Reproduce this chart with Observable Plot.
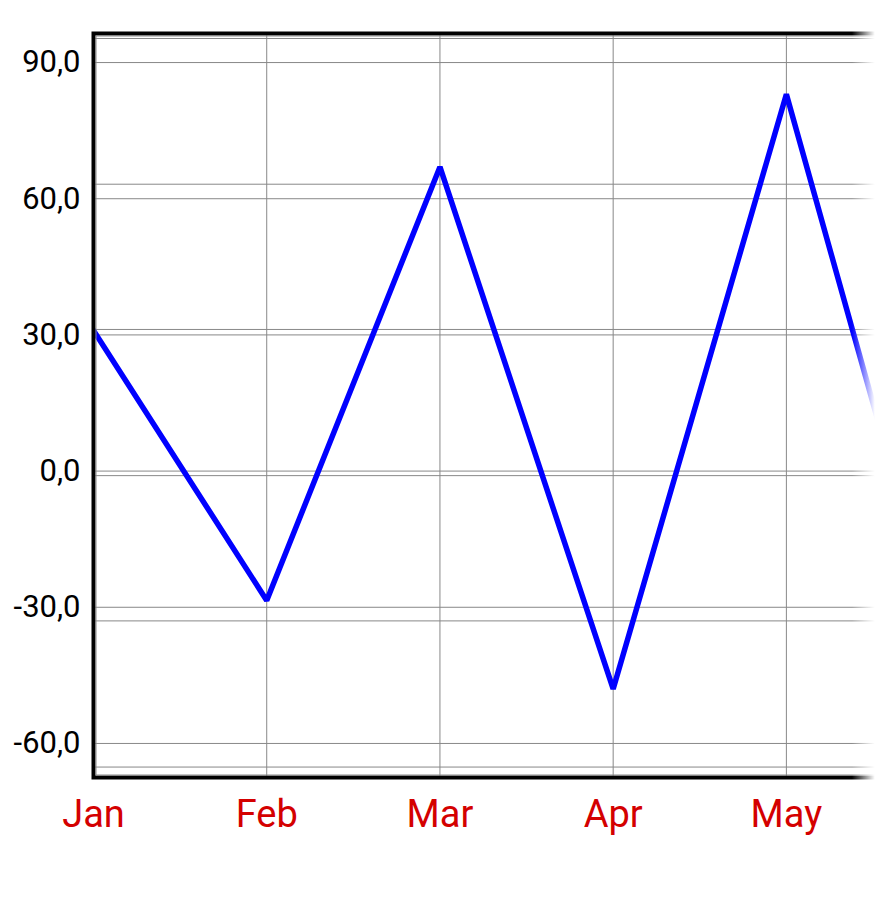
<!DOCTYPE html>
<html>
<head>
<meta charset="utf-8">
<script src="https://cdn.jsdelivr.net/npm/d3@7"></script>
<script src="https://cdn.jsdelivr.net/npm/@observablehq/plot@0.6"></script>
<style>
  html, body { margin: 0; padding: 0; background: #fff; }
  #wrap { position: relative; width: 876px; height: 910px; overflow: hidden; }
  #fade {
    position: absolute; left: 852px; top: 20px; width: 24px; height: 775px;
    background: linear-gradient(to right, rgba(255,255,255,0), #fff 95%);
    pointer-events: none;
  }
</style>
</head>
<body>
<div id="wrap"><div id="fade"></div></div>
<script>
// Monthly series
const months = ["Jan", "Feb", "Mar", "Apr", "May", "Jun"];
const values = [31, -28.5, 67, -48, 83, -53];

// Labelled y ticks
const yTicks = [-60, -30, 0, 30, 60, 90];
// Secondary, evenly spaced horizontal grid
const secondaryGrid = [95.3, 63.2, 31.2, -1.0, -33.0, -65.2];

const data = months.map((m, i) => ({month: m, index: i, value: values[i]}));
const monthTicks = months.map((m, i) => i);

const fmt = d => d.toFixed(1).replace(".", ",");

const chart = Plot.plot({
  width: 876,
  height: 910,
  marginTop: 33,
  marginBottom: 133,
  marginLeft: 93,
  marginRight: -10,
  style: {fontFamily: "Roboto", background: "#fff"},
  x: {type: "linear", domain: [0, 4.578]},
  y: {domain: [-67.5, 96.4]},
  marks: [
    Plot.ruleX(monthTicks, {stroke: "#888", strokeWidth: 1}),
    Plot.ruleY(yTicks, {stroke: "#888", strokeWidth: 1}),
    Plot.ruleY(secondaryGrid, {stroke: "#888", strokeWidth: 1}),
    Plot.line(data, {
      x: "index", y: "value", stroke: "#0000ff", strokeWidth: 5.5,
      strokeLinejoin: "bevel", clip: true
    }),
    Plot.frame({stroke: "#000", strokeWidth: 4}),
    Plot.frame({stroke: "#888", strokeWidth: 1, inset: 2.5}),
    Plot.axisY({
      ticks: yTicks, tickFormat: fmt, tickSize: 0, tickPadding: 13,
      fontSize: 31, fill: "#000", label: null
    }),
    Plot.axisX({
      ticks: monthTicks.filter(i => i <= 4), tickFormat: i => months[i],
      tickSize: 0, tickPadding: 23, fontSize: 38, fill: "#d40000", label: null
    })
  ]
});

document.getElementById("wrap").insertBefore(chart, document.getElementById("fade"));
</script>
</body>
</html>
